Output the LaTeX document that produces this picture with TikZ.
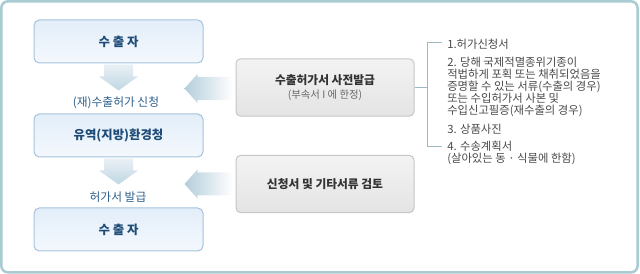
\documentclass[tikz,border=0pt]{standalone}
\usepackage{fontspec}
\setmainfont{Noto Sans CJK KR}
\definecolor{frame}{HTML}{A9CBD2}
\definecolor{bborder}{HTML}{A6C3DD}
\definecolor{btop}{HTML}{E3EEF9}
\definecolor{bbot}{HTML}{F4F8FD}
\definecolor{btext}{HTML}{1E4C78}
\definecolor{ltext}{HTML}{2C5F8C}
\definecolor{gborder}{HTML}{C6C6C6}
\definecolor{gtop}{HTML}{F3F3F3}
\definecolor{gbot}{HTML}{E4E4E4}
\definecolor{gtext}{HTML}{333333}
\definecolor{gsub}{HTML}{666666}
\definecolor{rtext}{HTML}{4A4A4A}
\definecolor{brk}{HTML}{9DB9C8}
\definecolor{atop}{HTML}{EAF1F5}
\definecolor{abot}{HTML}{BFD6E2}
\definecolor{aleft}{HTML}{B3CEDB}
\begin{document}
\begin{tikzpicture}[x=0.75pt,y=-0.75pt,
  bluebox/.style={draw=bborder, line width=0.75pt, rounded corners=4pt, top color=btop, bottom color=bbot,
    minimum width=126.75pt, minimum height=32.25pt, inner sep=0pt,
    font=\fontsize{9.3pt}{11pt}\selectfont\bfseries, text=btext},
  graybox/.style={draw=gborder, line width=0.75pt, rounded corners=3.5pt, top color=gtop, bottom color=gbot,
    minimum width=133.5pt, minimum height=43pt, inner sep=0pt, align=center, text=gtext},
  lbl/.style={inner sep=0pt, font=\fontsize{8.8pt}{10pt}\selectfont, text=ltext},
  rt/.style={inner sep=0pt, anchor=west, align=left, font=\fontsize{8.5pt}{9pt}\selectfont, text=rtext},
  downarrow/.style={top color=atop, bottom color=abot, draw=none},
  leftarrow/.style={left color=aleft, right color=white, draw=none},
  bracket/.style={draw=brk, line width=0.75pt}
]
\useasboundingbox (0,0) rectangle (640,274);
\draw[frame, line width=1.9pt, rounded corners=5pt] (1.3,1.3) rectangle (637.6,272.4);

% left column
\node[bluebox] (b1) at (118.5,41.5) {수 출 자};
\node[bluebox] (b2) at (118.5,135.5) {유역(지방)환경청};
\node[bluebox] (b3) at (118.5,229.5) {수 출 자};
\node[lbl] (l1) at (116,103) {(재)수출허가 신청};
\node[lbl] (l2) at (118,197) {허가서 발급};

% down arrows
\path[downarrow, shift={(b1.south)}] (-14.5,1) -- (14.5,1) -- (14.5,13) -- (19.5,13) -- (0,27) -- (-19.5,13) -- (-14.5,13) -- cycle;
\path[downarrow, shift={(b2.south)}] (-14.5,1) -- (14.5,1) -- (14.5,13) -- (19.5,13) -- (0,27) -- (-19.5,13) -- (-14.5,13) -- cycle;

% gray boxes
\node[graybox] (gA) at (325,87.5) {{\fontsize{8.8pt}{10pt}\selectfont\bfseries 수출허가서 사전발급}\\[-1pt]{\fontsize{7.8pt}{9pt}\selectfont\color{gsub}(부속서 I 에 한정)}};
\node[graybox] (gB) at (325,184) {\fontsize{8.8pt}{10pt}\selectfont\bfseries 신청서 및 기타서류 검토};

% left arrows
\path[leftarrow, shift={(gA.west)}] (-3,-10.5) -- (-38,-10.5) -- (-38,-13.5) -- (-51,1) -- (-38,15.5) -- (-38,12.5) -- (-3,12.5) -- cycle;
\path[leftarrow, shift={(gB.west)}] (-3,-11.5) -- (-38,-11.5) -- (-38,-14.5) -- (-51,0) -- (-38,14.5) -- (-38,11.5) -- (-3,11.5) -- cycle;

% right text
\node[rt] (t1) at (447,44) {1.허가신청서};
\node[rt] (t2) at (447,87) {2. 당해 국제적멸종위기종이\\적법하게 포획 또는 채취되었음을\\증명할 수 있는 서류(수출의 경우)\\또는 수입허가서 사본 및\\수입신고필증(재수출의 경우)};
\node[rt] (t3) at (447,129) {3. 상품사진};
\node[rt] (t4) at (447,152.5) {4. 수송계획서\\(살아있는 동 · 식물에 한함)};

% bracket
\coordinate (bt) at (427,43);
\coordinate (bb) at (427,147);
\coordinate (bm) at (427,87.5);
\draw[bracket] (gA.east) -- (bm);
\draw[bracket] (442,43) -- (bt) -- (bb) -- (442,147);
\end{tikzpicture}
\end{document}
